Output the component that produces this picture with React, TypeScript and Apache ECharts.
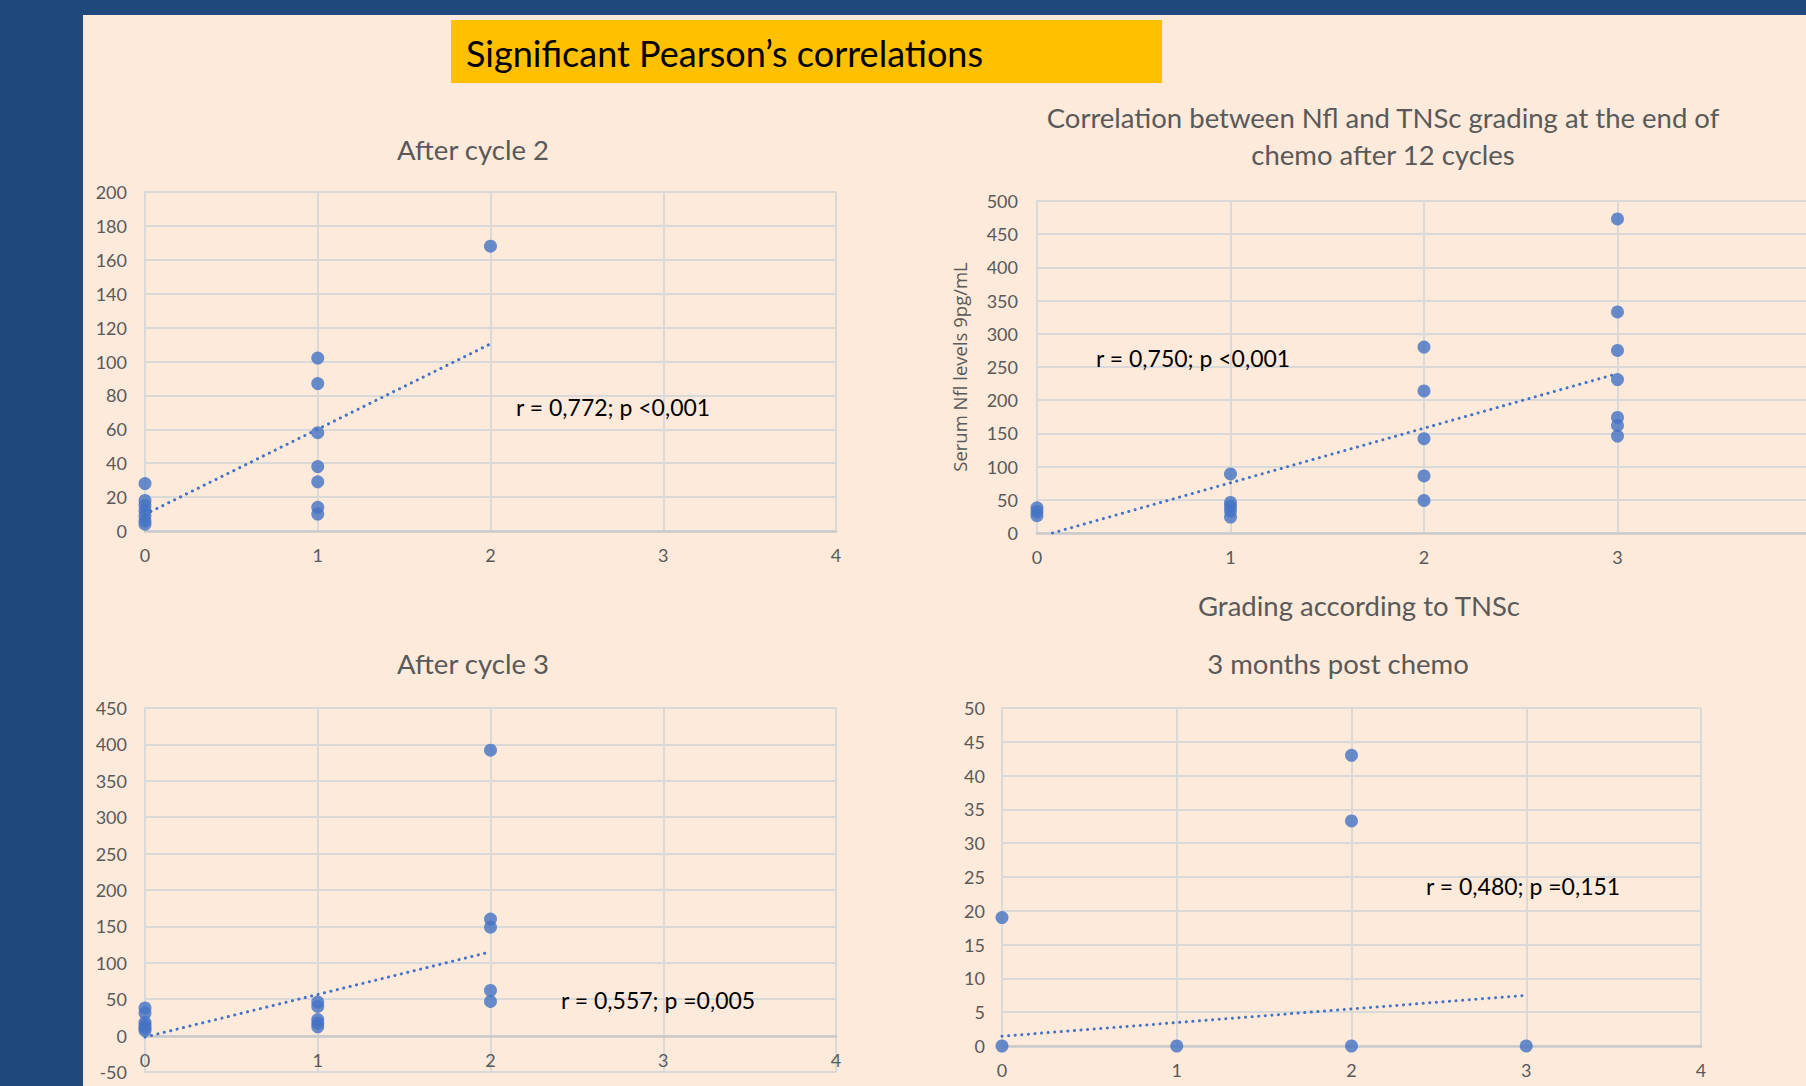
import React, { useEffect, useRef } from "react";
import * as echarts from "echarts";

// ---- data ----
const cycle2Grade = [0, 0, 0, 0, 0, 0, 0, 1, 1, 1, 1, 1, 1, 1, 2];
const cycle2Nfl = [28, 18, 15, 12, 9, 6, 4, 102, 87, 58, 38, 29, 14, 10, 168];
const cycle2TrendX = [0, 2];
const cycle2TrendY = [9.8, 110.4];

const endGrade = [0, 0, 0, 1, 1, 1, 1, 1, 2, 2, 2, 2, 2, 3, 3, 3, 3, 3, 3, 3];
const endNfl = [38, 32, 26, 89, 46, 40, 33, 24, 280, 214, 142, 86, 49, 473, 333, 275, 231, 174, 162, 146];
const endTrendX = [0.08, 3];
const endTrendY = [0, 240];

const cycle3Grade = [0, 0, 0, 0, 0, 0, 1, 1, 1, 1, 1, 2, 2, 2, 2, 2];
const cycle3Nfl = [38, 31, 18, 14, 10, 7, 46, 40, 22, 17, 12, 392, 160, 149, 62, 47];
const cycle3TrendX = [0, 2];
const cycle3TrendY = [-2, 115];

const postGrade = [0, 0, 1, 2, 2, 2, 3];
const postNfl = [0, 19, 0, 0, 33.3, 43, 0];
const postTrendX = [0, 3];
const postTrendY = [1.45, 7.5];

const xTicks = { min: 0, max: 4, interval: 1 };
const yRanges = [
  { min: 0, max: 200, interval: 20 },
  { min: 0, max: 500, interval: 50 },
  { min: -50, max: 450, interval: 50 },
  { min: 0, max: 50, interval: 5 },
];

const mainTitle = "Significant Pearson\u2019s correlations";
const chartTitles = [
  "After cycle 2",
  "Correlation between Nfl and TNSc grading at the end of\nchemo after 12 cycles",
  "After cycle 3",
  "3 months post chemo",
];
const statTexts = [
  "r = 0,772; p <0,001",
  "r = 0,750; p <0,001",
  "r = 0,557; p =0,005",
  "r = 0,480; p =0,151",
];
const yAxisName = "Serum Nfl levels 9pg/mL";
const xAxisName = "Grading according to TNSc";

const BLUE = "#4472C4";
const GRAY_TEXT = "#595959";
const GRID_LINE = "#D9D9D9";
const AXIS_LINE = "#CACACA";
const FONT = "Lato, 'Noto Sans', sans-serif";

// the slide is cropped on the right: the canvas is a little wider than the window
const CANVAS_W = 1830;
const CANVAS_H = 1086;

const zip = (xs: number[], ys: number[]) => xs.map((x, i) => [x, ys[i]]);

export default function App() {
  const ref = useRef<HTMLDivElement>(null);

  useEffect(() => {
    if (!ref.current) return;
    const chart = echarts.init(ref.current, undefined, { renderer: "svg" });

    const grids = [
      { left: 145, top: 192, width: 691, height: 339 },
      { left: 1037, top: 201, width: 774, height: 332 },
      { left: 145, top: 708, width: 691, height: 364 },
      { left: 1002, top: 708, width: 699, height: 338 },
    ];
    const yMargins = [18, 19, 18, 17];
    // chart 3: category axis crosses the value axis at 0 (pixels from the grid bottom)
    const xOffsets = [0, 0, -36, 0];

    const xAxes = grids.map((_, i) => ({
      type: "value",
      gridIndex: i,
      ...xTicks,
      offset: xOffsets[i],
      axisLine: { show: true, onZero: false, lineStyle: { color: AXIS_LINE, width: 2.5 } },
      axisTick: { show: false },
      axisLabel: {
        color: GRAY_TEXT,
        fontSize: 18,
        fontFamily: FONT,
        margin: 15,
        showMaxLabel: i === 1 ? false : true,
      },
      splitLine: { show: true, lineStyle: { color: GRID_LINE, width: 2 } },
    }));

    const yAxes = grids.map((_, i) => ({
      type: "value",
      gridIndex: i,
      ...yRanges[i],
      axisLine: { show: true, onZero: false, lineStyle: { color: GRID_LINE, width: 2 } },
      axisTick: { show: false },
      axisLabel: { color: GRAY_TEXT, fontSize: 18, fontFamily: FONT, margin: yMargins[i] },
      splitLine: { show: true, lineStyle: { color: GRID_LINE, width: 2 } },
      ...(i === 1
        ? {
            name: yAxisName,
            nameLocation: "middle",
            nameRotate: 90,
            nameGap: 68,
            nameTextStyle: { color: GRAY_TEXT, fontSize: 18.5, fontFamily: "'Open Sans', sans-serif" },
          }
        : {}),
    }));

    const scatterSets = [
      zip(cycle2Grade, cycle2Nfl),
      zip(endGrade, endNfl),
      zip(cycle3Grade, cycle3Nfl),
      zip(postGrade, postNfl),
    ];
    const trendSets = [
      zip(cycle2TrendX, cycle2TrendY),
      zip(endTrendX, endTrendY),
      zip(cycle3TrendX, cycle3TrendY),
      zip(postTrendX, postTrendY),
    ];

    const series: any[] = [];
    scatterSets.forEach((d, i) => {
      series.push({
        type: "line",
        xAxisIndex: i,
        yAxisIndex: i,
        data: trendSets[i],
        showSymbol: false,
        symbol: "none",
        lineStyle: { color: BLUE, width: 3, type: [0.1, 6.5], cap: "round" },
        z: 3,
      });
      series.push({
        type: "scatter",
        xAxisIndex: i,
        yAxisIndex: i,
        data: d,
        symbolSize: 13,
        itemStyle: { color: BLUE },
        z: 4,
      });
    });

    const titlePos = [
      { x: 473, y: 149 },
      { x: 1383, y: 136 },
      { x: 473, y: 663 },
      { x: 1338, y: 663 },
    ];
    const statPos = [
      { x: 516, y: 407 },
      { x: 1096, y: 358 },
      { x: 561, y: 1000 },
      { x: 1426, y: 886 },
    ];

    const graphic: any[] = [
      {
        type: "rect",
        shape: { x: 83, y: 15, width: CANVAS_W - 83, height: CANVAS_H - 15 },
        style: { fill: "#FDEADB" },
        z: -10,
        silent: true,
      },
      {
        type: "rect",
        shape: { x: 451, y: 20, width: 711, height: 63 },
        style: { fill: "#FFC000" },
        z: 1,
      },
      {
        type: "text",
        x: 466,
        y: 53,
        style: {
          text: mainTitle,
          fill: "#000000",
          font: `36px ${FONT}`,
          align: "left",
          verticalAlign: "middle",
          textAlign: "left",
          textVerticalAlign: "middle",
        },
        z: 2,
      },
      ...chartTitles.map((t, i) => ({
        type: "text",
        x: titlePos[i].x,
        y: titlePos[i].y,
        style: {
          text: t,
          fill: GRAY_TEXT,
          font: `27.5px ${FONT}`,
          lineHeight: 37,
          align: "center",
          verticalAlign: "middle",
          textAlign: "center",
          textVerticalAlign: "middle",
        },
        z: 2,
      })),
      ...statTexts.map((t, i) => ({
        type: "text",
        x: statPos[i].x,
        y: statPos[i].y,
        style: {
          text: t,
          fill: "#000000",
          font: `23px ${FONT}`,
          align: "left",
          verticalAlign: "middle",
          textAlign: "left",
          textVerticalAlign: "middle",
        },
        z: 5,
      })),
      {
        type: "text",
        x: 1359,
        y: 605,
        style: {
          text: xAxisName,
          fill: GRAY_TEXT,
          font: `27.5px ${FONT}`,
          align: "center",
          verticalAlign: "middle",
          textAlign: "center",
          textVerticalAlign: "middle",
        },
        z: 2,
      },
    ];

    chart.setOption({
      animation: false,
      backgroundColor: "#1F497D",
      grid: grids.map((g) => ({ ...g, containLabel: false })),
      xAxis: xAxes,
      yAxis: yAxes,
      series,
      graphic,
    });

    return () => chart.dispose();
  }, []);

  return (
    <div style={{ position: "fixed", left: 0, top: 0, width: 1806, height: 1086, overflow: "hidden" }}>
      <div ref={ref} style={{ position: "absolute", left: 0, top: 0, width: CANVAS_W, height: CANVAS_H }} />
    </div>
  );
}
